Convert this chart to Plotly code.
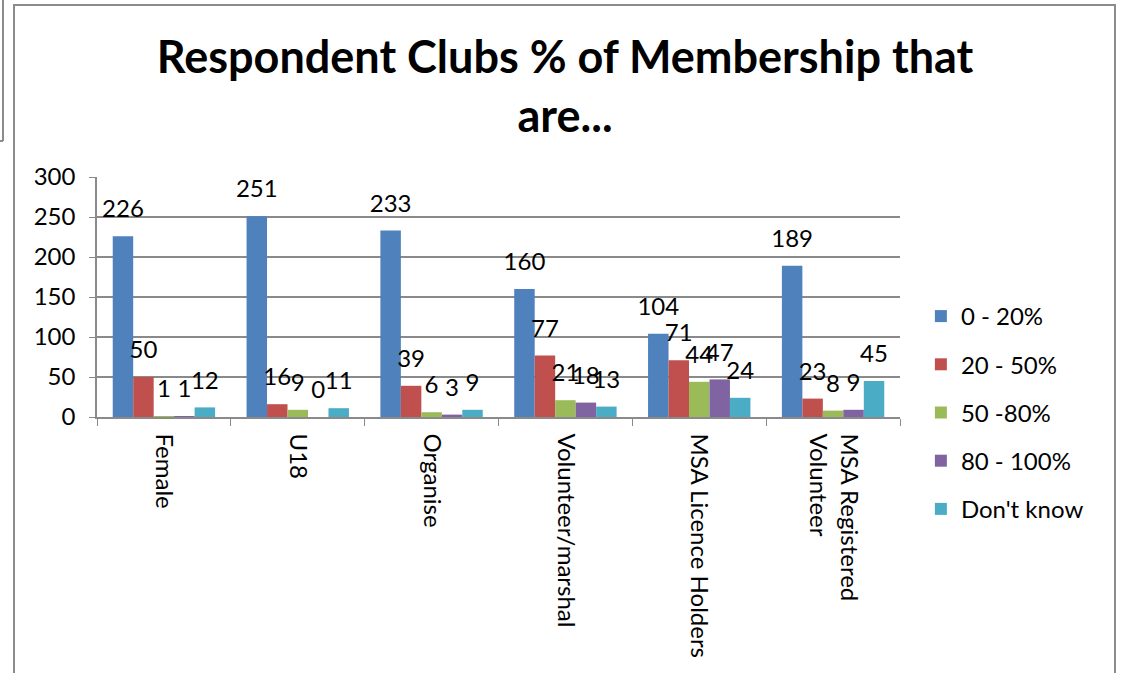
import plotly.graph_objects as go

categories = ["Female", "U18", "Organise", "Volunteer/marshal",
              "MSA Licence Holders", "MSA Registered<br>Volunteer"]
series_names = ["0 - 20%", "20 - 50%", "50 -80%", "80 - 100%", "Don't know"]
v_0_20 = [226, 251, 233, 160, 104, 189]
v_20_50 = [50, 16, 39, 77, 71, 23]
v_50_80 = [1, 9, 6, 21, 44, 8]
v_80_100 = [1, 0, 3, 18, 47, 9]
v_dont_know = [12, 11, 9, 13, 24, 45]
colors = ["#4F81BD", "#C0504D", "#9BBB59", "#8064A2", "#4BACC6"]

font = "Lato, 'Open Sans', sans-serif"
all_vals = [v_0_20, v_20_50, v_50_80, v_80_100, v_dont_know]

fig = go.Figure()
for i, (name, vals) in enumerate(zip(series_names, all_vals)):
    fig.add_trace(go.Bar(
        x=categories, y=vals, name=name, legendgroup=name,
        marker=dict(color=colors[i], line=dict(width=0)),
        hoverinfo="x+y+name",
    ))
# data labels, grouped the same way as the bars but lifted a bit higher
for i, (name, vals) in enumerate(zip(series_names, all_vals)):
    fig.add_trace(go.Scatter(
        x=categories, y=vals, mode="markers+text", text=vals,
        textposition="top center", showlegend=False, hoverinfo="skip",
        marker=dict(size=19, opacity=0), cliponaxis=False,
        textfont=dict(size=24, color="black", family=font),
    ))

fig.update_layout(
    width=1122, height=673,
    margin=dict(l=97, r=222, t=177, b=256),
    paper_bgcolor="white", plot_bgcolor="white",
    barmode="group", bargap=0.235, bargroupgap=0,
    scattermode="group", scattergap=0.235,
    title=dict(text="<b>Respondent Clubs % of Membership that<br>are...</b>",
               x=0.5036, xref="container", xanchor="center",
               y=0.891, yref="container", yanchor="middle",
               font=dict(size=45, color="black", family=font)),
    font=dict(family=font, color="black"),
    showlegend=True,
    legend=dict(x=1.026, y=0.5125, xanchor="left", yanchor="top",
                font=dict(size=24, color="black", family=font),
                traceorder="grouped", tracegroupgap=14, itemwidth=30),
    shapes=[
        dict(type="rect", xref="paper", yref="paper",
             x0=(14 - 97) / 803, x1=(1115 - 97) / 803,
             y0=(417 - 690) / 240, y1=(417 - 5) / 240,
             line=dict(color="#8c8c8c", width=2), layer="below"),
        dict(type="line", xref="paper", yref="paper",
             x0=(3 - 97) / 803, x1=(3 - 97) / 803,
             y0=(417 - 141) / 240, y1=(417 + 5) / 240,
             line=dict(color="#8c8c8c", width=2)),
        dict(type="line", xref="paper", yref="paper",
             x0=(-5 - 97) / 803, x1=(3 - 97) / 803,
             y0=(417 - 141) / 240, y1=(417 - 141) / 240,
             line=dict(color="#8c8c8c", width=2)),
    ],
)

fig.update_yaxes(range=[0, 300], dtick=50, showgrid=True, gridcolor="#8a8a8a", gridwidth=1.5,
                 showline=True, linecolor="#8a8a8a", linewidth=1.5,
                 ticks="outside", ticklen=6, tickcolor="#8a8a8a", automargin=False,
                 ticklabelstandoff=9,
                 tickfont=dict(size=24, color="black", family=font), zeroline=False)
fig.update_xaxes(showline=True, linecolor="#8a8a8a", linewidth=1.5,
                 ticks="outside", tickson="boundaries", ticklen=7, tickcolor="#8a8a8a",
                 automargin=False, ticklabelstandoff=10,
                 tickangle=90, tickfont=dict(size=24, color="black", family=font))

# drop the page's default body margin so the chart sits at the window's corner
fig.write_html("out.html", config={"displayModeBar": False},
               post_script="document.body.style.margin='0px';")
